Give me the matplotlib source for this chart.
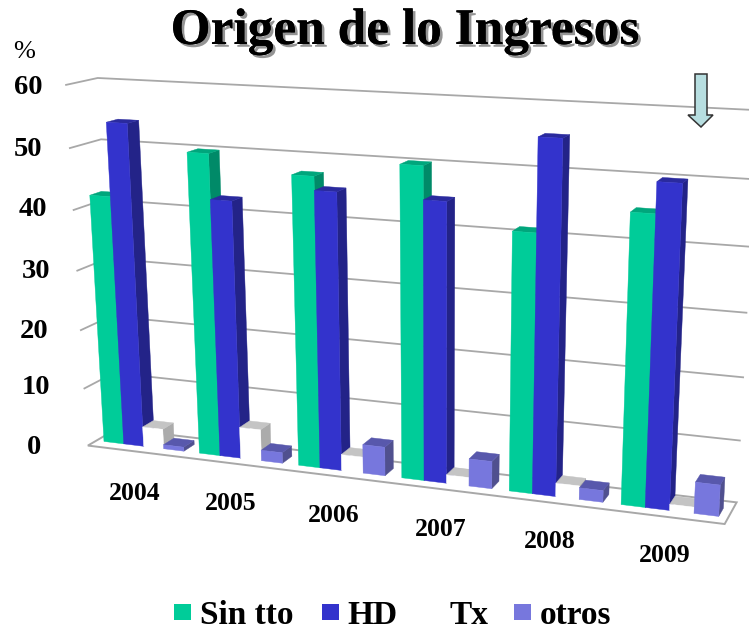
import numpy as np
import matplotlib
matplotlib.use("Agg")
import matplotlib.pyplot as plt
import matplotlib.patheffects as pe
from matplotlib.patches import Polygon, Rectangle

years = ["2004", "2005", "2006", "2007", "2008", "2009"]
series_names = ["Sin tto", "HD", "Tx", "otros"]
sin_tto = [42, 50, 47.5, 50.2, 41.2, 45.3]
hd = [54, 42.7, 45.3, 45, 55.5, 50]
tx = [3.4, 5.3, 2.7, 1.4, 2.2, 1.0]
otros = [0.7, 1.8, 4.8, 4.5, 1.9, 5.0]
y_ticks = [0, 10, 20, 30, 40, 50, 60]
series = [sin_tto, hd, tx, otros]

# face colours: front, side, top
styles = [("#00CC99", "#008A68", "#00A67C"),
          ("#3333CC", "#232388", "#2A2A9E"),
          ("#FFFFFF", "#ABABAB", "#C4C4C4"),
          ("#7777DD", "#50508F", "#5858AC")]

# camera calibration: (u, level, depth) -> pixel
calib = [((0, 0, 0), (87, 446)), ((1, 0, 0), (725, 523)),
         ((0, 0, 1), (118, 428)), ((1, 0, 1), (737, 503)),
         ((0, 60, 1), (97, 78)), ((1, 60, 1), (757, 110)),
         ((0, 60, 0), (67, 85)), ((1, 10, 1), (739, 441)),
         ((0, 30, 0), (77, 271)), ((0, 50, 1), (101, 139))]
A = []
b = []
for (u, v, w), (px, py) in calib:
    A.append([u, v, w, 1, 0, 0, 0, 0, -px*u, -px*v, -px*w])
    b.append(px)
    A.append([0, 0, 0, 0, u, v, w, 1, -py*u, -py*v, -py*w])
    b.append(py)
h = np.linalg.lstsq(np.array(A, float), np.array(b, float), rcond=None)[0]
M = np.append(h, 1.0).reshape(3, 4)


def proj(u, v, w):
    p = M @ np.array([u, v, w, 1.0])
    return (p[0]/p[2], p[1]/p[2])


fig = plt.figure(figsize=(7.49, 6.30), dpi=100)
ax = fig.add_axes([0, 0, 1, 1])
ax.set_xlim(0, 749)
ax.set_ylim(630, 0)
ax.axis("off")
SERIF = "Liberation Serif"
GRID = "#A8A8A8"

# floor
ax.add_patch(Polygon([proj(0, 0, 0), proj(1, 0, 0), proj(1, 0, 1), proj(0, 0, 1)],
                     closed=True, fc="white", ec=GRID, lw=1.4, zorder=1))
# walls / gridlines
for t in y_ticks[1:]:
    pts = [proj(0, t, 0), proj(0, t, 1), proj(1, t, 1)]
    ax.plot(*zip(*pts), color=GRID, lw=1.3, zorder=1, solid_joinstyle="miter")

# bars
n = len(years)
bar_w = 0.21 / n
gap = 0.16 / n
w0, w1 = 0.29, 0.67
z = 2
for i in range(n):
    for j, vals in enumerate(series):
        u0 = i / n + gap / 2 + j * bar_w
        u1 = u0 + bar_w
        v = vals[i]
        front_c, side_c, top_c = styles[j]
        side = [proj(u1, 0, w0), proj(u1, v, w0), proj(u1, v, w1), proj(u1, 0, w1)]
        top = [proj(u0, v, w0), proj(u1, v, w0), proj(u1, v, w1), proj(u0, v, w1)]
        front = [proj(u0, 0, w0), proj(u1, 0, w0), proj(u1, v, w0), proj(u0, v, w0)]
        for poly, c in ((side, side_c), (top, top_c), (front, front_c)):
            ax.add_patch(Polygon(poly, closed=True, fc=c, ec=c, lw=0.3, zorder=z))
            z += 1

# y tick labels
tick_pos = [(34, 447), (36, 388), (34, 331), (36, 271), (33, 210), (28, 149), (28, 87)]
for t, (x, y) in zip(y_ticks, tick_pos):
    ax.text(x, y, str(t), family=SERIF, weight="bold", fontsize=20.5,
            ha="center", va="center", color="black", zorder=200)
ax.text(24, 52, "%", family=SERIF, fontsize=19, ha="center", va="center", zorder=200)

# category labels
cat_pos = [(135, 493), (231, 504), (334, 515), (441, 529), (550, 542), (665, 556)]
for lab, (x, y) in zip(years, cat_pos):
    ax.text(x, y, lab, family=SERIF, weight="bold", fontsize=18.5, ha="center",
            va="center", zorder=200)

# title
ax.text(405, 32, "Origen de lo Ingresos", family=SERIF, weight="bold", fontsize=37,
        ha="center", va="center", color="black", zorder=200,
        path_effects=[pe.withSimplePatchShadow(offset=(2, -2), shadow_rgbFace="#888888", alpha=0.9),
                      pe.Normal()])

# legend
leg_marker_x = [174, 322, None, 514]
leg_text_x = [200, 347, 450, 540]
for name, mx, tx_, st in zip(series_names, leg_marker_x, leg_text_x, styles):
    if mx is not None:
        ax.add_patch(Rectangle((mx, 604), 17, 16, fc=st[0], ec="none", zorder=200))
    ax.text(tx_, 615, name, family=SERIF, weight="bold", fontsize=24, ha="left",
            va="center", zorder=200)

# arrow annotation
ax.add_patch(Polygon([(695, 74), (707, 74), (707, 115), (713, 115), (701, 127),
                      (688, 115), (695, 115)], closed=True, fc="#B7DEE0", ec="#333333",
                     lw=1.1, zorder=300))

fig.savefig("out.png", dpi=100)
